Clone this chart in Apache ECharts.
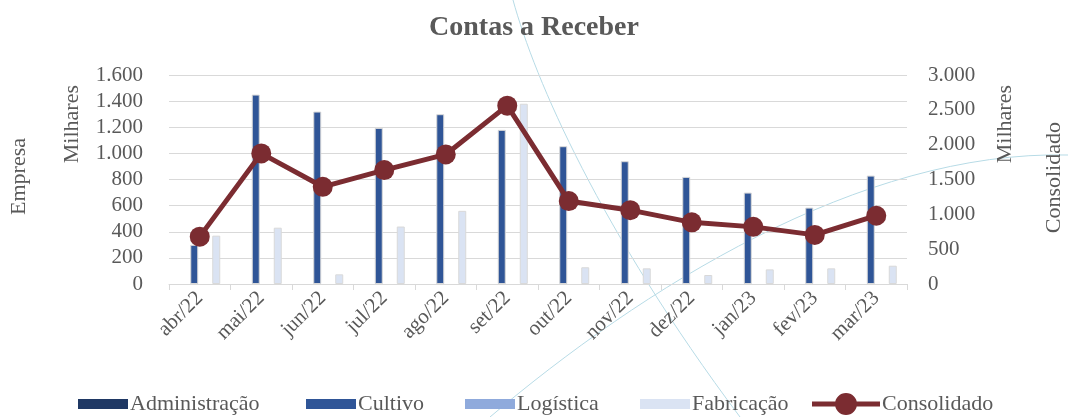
<!DOCTYPE html>
<html>
<head>
<meta charset="utf-8">
<script src="https://cdn.jsdelivr.net/npm/echarts@6/dist/echarts.min.js"></script>
<style>
  html, body { margin: 0; padding: 0; background: #fff; }
  #chart { width: 1068px; height: 417px; }
</style>
</head>
<body>
<div id="chart"></div>
<script>
const months = ['abr/22', 'mai/22', 'jun/22', 'jul/22', 'ago/22', 'set/22',
  'out/22', 'nov/22', 'dez/22', 'jan/23', 'fev/23', 'mar/23']
// valores em milhares
const administracao = [0, 0, 0, 0, 0, 0, 0, 0, 0, 0, 0, 0]
const cultivo = [300, 1450, 1320, 1195, 1300, 1180, 1055, 940, 820, 700, 585, 830]
const logistica = [0, 0, 0, 0, 0, 0, 0, 0, 0, 0, 0, 0]
const fabricacao = [370, 431, 74, 440, 560, 1380, 128, 120, 69, 112, 120, 140]
const consolidado = [680, 1875, 1395, 1635, 1860, 2560, 1190, 1060, 885, 820, 705, 980]

const font = '"Liberation Serif", "DejaVu Serif", serif'
const textColor = '#595959'
const lineColor = '#7b2c31'
const fmt = v => v.toLocaleString('de-DE')

const chart = echarts.init(document.getElementById('chart'))

// barras com valor zero nao aparecem (sem borda)
const barSeries = (name, data, color, border) => ({
  name: name,
  type: 'bar',
  data: data,
  barWidth: 8,
  barGap: '37.5%',
  itemStyle: {
    color: color,
    borderColor: '#d9d9d9',
    borderWidth: border ? 1 : 0
  }
})

// uma legenda por item, para posicionar igual ao Excel
const legendItem = (name, left, extra) => Object.assign({
  data: [name],
  left: left,
  top: 393,
  padding: 0,
  icon: 'rect',
  itemWidth: 50,
  itemHeight: 10,
  itemStyle: { borderWidth: 0 },
  textStyle: { fontFamily: font, fontSize: 22, color: textColor, padding: [0, 0, 0, -3] }
}, extra || {})

const option = {
  animation: false,
  textStyle: { fontFamily: font },
  title: {
    text: 'Contas a Receber',
    left: 'center',
    top: 9,
    textStyle: { fontFamily: font, fontSize: 28, fontWeight: 'bold', color: textColor }
  },
  legend: [
    legendItem('Administração', 78),
    legendItem('Cultivo', 306),
    legendItem('Logística', 465),
    legendItem('Fabricação', 640),
    legendItem('Consolidado', 812, {
      itemWidth: 68,
      itemHeight: 22,
      icon: 'path://M0,8.5 L68,8.5 L68,13.5 L0,13.5 Z M34,0 A11,11 0 1,1 34,22 A11,11 0 1,1 34,0 Z'
    })
  ],
  grid: { left: 169, right: 161, top: 75, bottom: 133 },
  xAxis: {
    type: 'category',
    data: months,
    axisLine: { lineStyle: { color: '#d9d9d9', width: 1 } },
    axisTick: { show: true, length: 6, lineStyle: { color: '#d9d9d9' } },
    axisLabel: {
      rotate: 45,
      margin: 11,
      fontFamily: font,
      fontSize: 21,
      color: textColor
    }
  },
  yAxis: [
    {
      type: 'value',
      min: 0,
      max: 1600,
      interval: 200,
      axisLine: { show: false },
      axisTick: { show: false },
      splitLine: { lineStyle: { color: '#d9d9d9', width: 1 } },
      axisLabel: { margin: 26, fontFamily: font, fontSize: 21, color: textColor, formatter: fmt }
    },
    {
      type: 'value',
      min: 0,
      max: 3000,
      interval: 500,
      axisLine: { show: false },
      axisTick: { show: false },
      splitLine: { show: false },
      axisLabel: { margin: 21, fontFamily: font, fontSize: 21, color: textColor, formatter: fmt }
    }
  ],
  series: [
    barSeries('Administração', administracao, '#1f3864', false),
    barSeries('Cultivo', cultivo, '#2f5597', true),
    barSeries('Logística', logistica, '#8faadc', false),
    barSeries('Fabricação', fabricacao, '#dae3f3', true),
    {
      name: 'Consolidado', type: 'line', yAxisIndex: 1, data: consolidado,
      symbol: 'circle', symbolSize: 20,
      lineStyle: { color: lineColor, width: 5 },
      itemStyle: { color: lineColor },
      z: 5
    }
  ],
  graphic: [
    {
      type: 'bezierCurve', silent: true, z: 0,
      shape: { x1: 513, y1: 0, cpx1: 535, cpy1: 80, cpx2: 600, cpy2: 230, x2: 740, y2: 417 },
      style: { stroke: '#b7dbe6', lineWidth: 1, fill: null }
    },
    {
      type: 'bezierCurve', silent: true, z: 0,
      shape: { x1: 490, y1: 417, cpx1: 640, cpy1: 290, cpx2: 860, cpy2: 150, x2: 1068, y2: 155 },
      style: { stroke: '#b7dbe6', lineWidth: 1, fill: null }
    },
    {
      type: 'text', left: 8, top: 138, rotation: Math.PI / 2,
      style: { text: 'Empresa', font: '22px ' + font, fill: textColor }
    },
    {
      type: 'text', left: 61, top: 85, rotation: Math.PI / 2,
      style: { text: 'Milhares', font: '22px ' + font, fill: textColor }
    },
    {
      type: 'text', left: 994, top: 85, rotation: Math.PI / 2,
      style: { text: 'Milhares', font: '22px ' + font, fill: textColor }
    },
    {
      type: 'text', left: 1043, top: 122, rotation: Math.PI / 2,
      style: { text: 'Consolidado', font: '22px ' + font, fill: textColor }
    }
  ]
}

chart.setOption(option)
</script>
</body>
</html>
